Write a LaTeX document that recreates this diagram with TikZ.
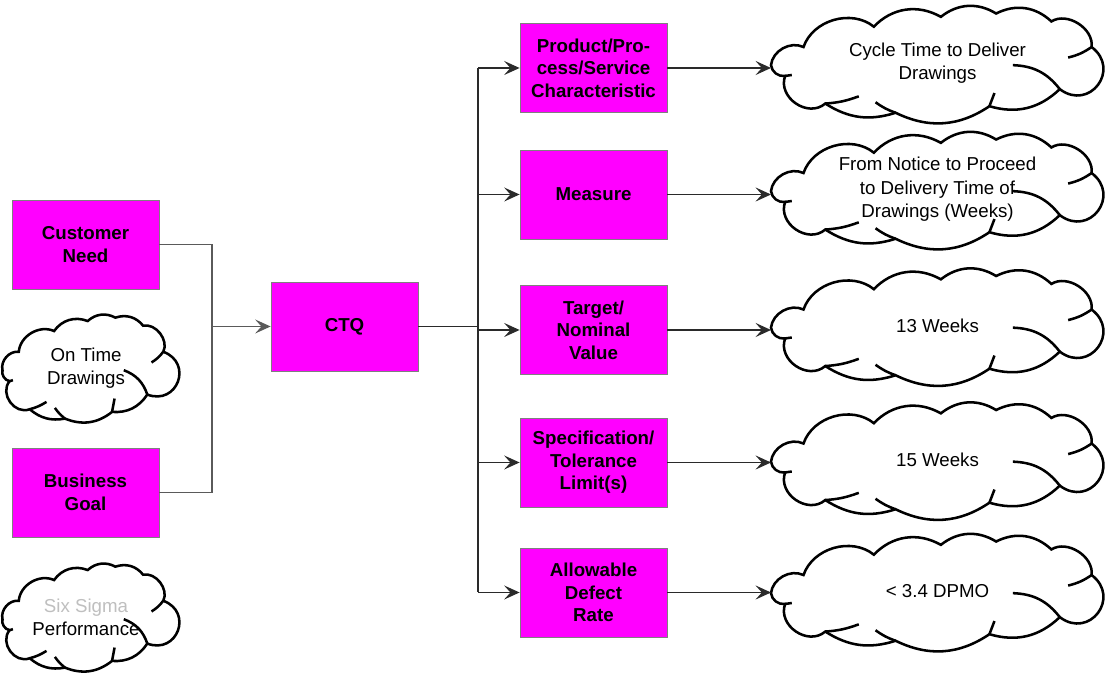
\documentclass[tikz,border=0pt]{standalone}
\usepackage{fontspec}
\setmainfont{Liberation Sans}
\usepackage{tikz}
\usetikzlibrary{arrows.meta}

\definecolor{ctqpink}{HTML}{FF00FF}
\definecolor{boxgray}{HTML}{7F7F7F}
\definecolor{feedgray}{HTML}{5A5A5A}
\definecolor{linkgray}{HTML}{2A2A2A}
\newcommand{\boxfont}{\fontsize{13.3}{16}\selectfont\bfseries}
\newcommand{\cloudfont}{\fontsize{13.3}{16.6}\selectfont}

\tikzset{
	ctqbox/.style={draw=boxgray, line width=0.6pt, fill=ctqpink, minimum width=3.675cm, minimum height=2.225cm, align=center, inner sep=0pt, font=\boxfont},
	feed/.style={draw=feedgray, line width=0.8pt},
	link/.style={draw=linkgray, line width=0.9pt},
	pointer/.style={-{Stealth[length=11pt,width=10pt,inset=4.5pt]}},
	cloud line/.style={line width=1.8pt, line join=miter},
	cloud text/.style={align=center, font=\cloudfont, inner sep=0pt},
	wide cloud/.style={x=4.1875cm, y=1.4375cm},
	small cloud/.style={x=2.1cm, y=1.4625cm},
	cloudy/.pic={
		\draw[cloud line, fill=white] (-0.994,-0.029) to[bend left=55] (-0.80,0.286)
			to[bend left=55] (-0.38,0.64) to[bend left=38] (0.02,0.811)
			to[bend left=35] (0.35,0.869) to[bend left=35] (0.68,0.731)
			to[bend left=65] (0.92,0.286) to[bend left=90,looseness=1.8] (0.73,-0.446)
			to[bend left=30] (0.31,-0.743) to[bend left=30] (-0.25,-0.857)
			to[bend left=25] (-0.67,-0.697) to[bend left=75,looseness=1.2] (-0.91,-0.217)
			to[bend left=45] (-0.994,-0.029) -- cycle;
		\draw[cloud line] (0.92,0.286) to[bend left=10] (0.78,0.103);
		\draw[cloud line] (0.73,-0.446) to[bend right=25] (0.45,-0.029);
		\draw[cloud line] (0.31,-0.743) -- (0.34,-0.514);
		\draw[cloud line] (-0.25,-0.857) to[bend left=8] (-0.37,-0.674);
		\draw[cloud line] (-0.67,-0.697) to[bend right=8] (-0.47,-0.571);
		\draw[cloud line] (-0.91,-0.217) -- (-0.87,-0.2);
		\coordinate (-w) at (-0.994,-0.029);
		\node[cloud text] (-txt) at (0,0) {#1};
	}
}

\begin{document}
\begin{tikzpicture}
	\useasboundingbox (0,0) rectangle (27.65,16.925);

	\node[ctqbox] (need) at (2.1375,10.8125) {Customer\\Need};
	\node[ctqbox] (goal) at (2.1375,4.6125) {Business\\Goal};
	\node[ctqbox] (ctq) at (8.6125,8.7625) {CTQ};
	\pic[small cloud] (ontime) at (2.15cm,7.7125cm) {cloudy={On Time\\Drawings}};
	\pic[small cloud] (sixsig) at (2.15cm,1.4875cm) {cloudy={{\color{black!25}Six Sigma}\\Performance}};

	\node[ctqbox] (prod) at (14.8375,15.225) {Product/Pro-\\cess/Service\\Characteristic};
	\node[ctqbox] (meas) at (14.8375,12.0625) {Measure};
	\node[ctqbox] (targ) at (14.8375,8.675) {Target/\\Nominal\\Value};
	\node[ctqbox] (spec) at (14.8375,5.3625) {Specification/\\Tolerance\\Limit(s)};
	\node[ctqbox] (rate) at (14.8375,2.1125) {Allowable\\Defect\\Rate};

	\pic[wide cloud] (cyc) at (23.4375cm,15.3375cm) {cloudy={Cycle Time to Deliver\\Drawings}};
	\pic[wide cloud] (ntp) at (23.4375cm,12.1875cm) {cloudy={From Notice to Proceed\\to Delivery Time of\\Drawings (Weeks)}};
	\pic[wide cloud] (wk13) at (23.4375cm,8.775cm) {cloudy={13 Weeks}};
	\pic[wide cloud] (wk15) at (23.4375cm,5.425cm) {cloudy={15 Weeks}};
	\pic[wide cloud] (dpmo) at (23.4375cm,2.1375cm) {cloudy={< 3.4 DPMO}};

	\coordinate (join) at (5.3,8.7625);
	\draw[feed] (need.east) -| (join) |- (goal.east);
	\draw[feed, pointer] (join) -- (ctq.west);

	\coordinate (trunk) at (11.95,8.7625);
	\draw[link] (ctq.east) -- (trunk);
	\draw[link] (trunk |- prod.west) -- (trunk |- rate.west);
	\foreach \b in {prod,meas,targ,spec,rate}
		\draw[link, pointer] (trunk |- \b.west) -- (\b.west);

	\draw[link, pointer] (prod.east) -- (prod.east -| cyc-w);
	\draw[link, pointer] (meas.east) -- (meas.east -| ntp-w);
	\draw[link, pointer] (targ.east) -- (targ.east -| wk13-w);
	\draw[link, pointer] (spec.east) -- (spec.east -| wk15-w);
	\draw[link, pointer] (rate.east) -- (rate.east -| dpmo-w);
\end{tikzpicture}
\end{document}
